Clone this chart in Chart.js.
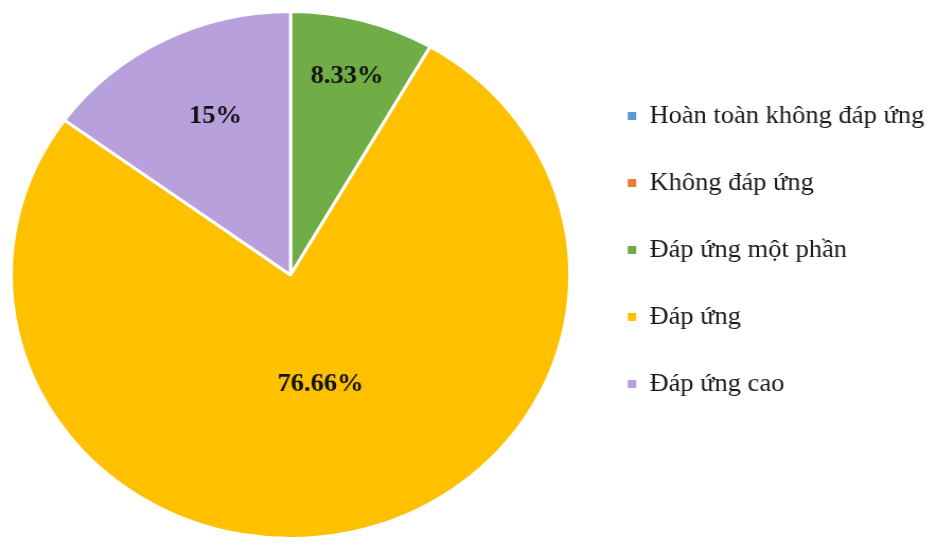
<!DOCTYPE html>
<html>
<head>
<meta charset="utf-8">
<script src="https://cdn.jsdelivr.net/npm/chart.js@4.4.0/dist/chart.umd.min.js"></script>
<style>
  html, body { margin: 0; padding: 0; background: #fff; overflow: hidden; }
  /* the original figure is slightly wider than tall, so stretch horizontally */
  #wrap { width: 876px; height: 545px; transform: scaleX(1.06); transform-origin: 0 0; }
</style>
</head>
<body>
<div id="wrap"><canvas id="chart"></canvas></div>
<script>
const labels = ['Hoàn toàn không đáp ứng', 'Không đáp ứng', 'Đáp ứng một phần', 'Đáp ứng', 'Đáp ứng cao'];
const values = [0, 0, 8.33, 76.66, 15];
const colors = ['#5B9BD5', '#ED7D31', '#70AD47', '#FFC000', '#B8A0DC'];

// Percent labels inside each slice: radius = fraction of outer radius,
// turn = small angle nudge in degrees
const sliceLabels = {
  id: 'sliceLabels',
  afterDatasetsDraw(chart, args, opts) {
    const ctx = chart.ctx;
    const meta = chart.getDatasetMeta(0);
    ctx.save();
    ctx.font = "bold 25px 'Liberation Serif', 'Times New Roman', serif";
    ctx.fillStyle = '#121212';
    ctx.textAlign = 'center';
    ctx.textBaseline = 'middle';
    meta.data.forEach((arc, i) => {
      if (!values[i]) return;
      const { x, y, startAngle, endAngle, outerRadius } =
        arc.getProps(['x', 'y', 'startAngle', 'endAngle', 'outerRadius'], true);
      const mid = (startAngle + endAngle) / 2 + opts.turn[i] * Math.PI / 180;
      const r = outerRadius * opts.radius[i];
      ctx.fillText(values[i] + '%', x + Math.cos(mid) * r, y + Math.sin(mid) * r);
    });
    ctx.restore();
  }
};

// Nudge the legend block up and slightly right
const legendShift = {
  id: 'legendShift',
  afterLayout(chart, args, opts) {
    const lg = chart.legend;
    lg.top -= opts.y;
    lg.bottom -= opts.y;
    lg.left += opts.x;
    lg.right += opts.x;
  }
};

const baseLabels = (Chart.overrides.pie || Chart.overrides.doughnut).plugins.legend.labels.generateLabels;

new Chart(document.getElementById('chart'), {
  type: 'pie',
  data: {
    labels: labels,
    datasets: [{
      data: values,
      backgroundColor: colors,
      borderColor: '#ffffff',
      borderWidth: 3
    }]
  },
  options: {
    responsive: true,
    maintainAspectRatio: false,
    animation: false,
    layout: { padding: { top: 10, bottom: 5, left: 4, right: 0 } },
    plugins: {
      tooltip: { enabled: false },
      legend: {
        position: 'right',
        labels: {
          boxWidth: 8,
          boxHeight: 8,
          padding: 42,
          color: '#1a1a1a',
          font: { family: "'Liberation Serif', 'Times New Roman', serif", size: 25 },
          generateLabels: chart => baseLabels(chart).map(l => ({ ...l, lineWidth: 0 }))
        }
      },
      sliceLabels: { radius: [0, 0, 0.78, 0.43, 0.66], turn: [0, 0, 0, -2.5, 3] },
      legendShift: { x: 6, y: 25 }
    }
  },
  plugins: [sliceLabels, legendShift]
});
</script>
</body>
</html>
